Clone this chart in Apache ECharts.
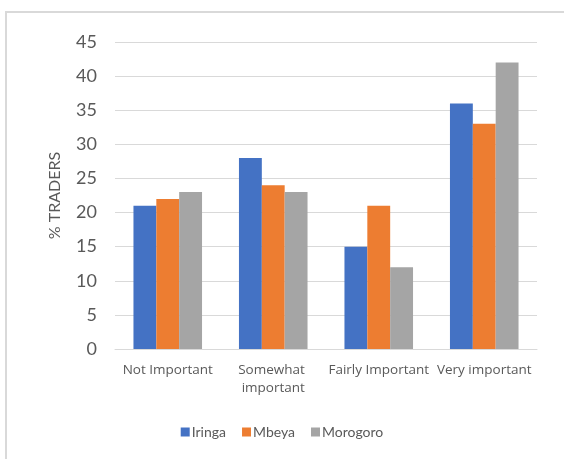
<!DOCTYPE html>
<html>
<head>
<meta charset="utf-8">
<script src="https://cdn.jsdelivr.net/npm/echarts@6/dist/echarts.min.js"></script>
<style>
  html, body { margin: 0; padding: 0; background: #fff; }
  #chart { width: 564px; height: 459px; }
</style>
</head>
<body>
<div id="chart"></div>
<script>
  // categories and values
  const categories = ['Not Important', 'Somewhat important', 'Fairly Important', 'Very important']
  const iringa = [21, 28, 15, 36]
  const mbeya = [22, 24, 21, 33]
  const morogoro = [23, 23, 12, 42]
  const seriesNames = ['Iringa', 'Mbeya', 'Morogoro']
  const colors = ['#4472c4', '#ed7d31', '#a5a5a5']

  const font = 'Lato, "Open Sans", sans-serif'
  const labelFont = '"Open Sans", Lato, sans-serif'
  const chart = echarts.init(document.getElementById('chart'))

  const bar = (name, data, color) => ({
    name,
    type: 'bar',
    data,
    barGap: '0%',
    barCategoryGap: '35%',
    itemStyle: { color },
    animation: false
  })

  chart.setOption({
    textStyle: { fontFamily: font },
    graphic: [
      // light frame round the chart area (top and left edge visible)
      { type: 'line', shape: { x1: 5, y1: 12, x2: 564, y2: 12 }, style: { stroke: '#d9d9d9', lineWidth: 2 } },
      { type: 'line', shape: { x1: 6, y1: 12, x2: 6, y2: 459 }, style: { stroke: '#d9d9d9', lineWidth: 2 } }
    ],
    grid: { left: 115, right: 27, top: 42, bottom: 110 },
    legend: {
      data: seriesNames,
      bottom: 15,
      left: 'center',
      itemWidth: 9,
      itemHeight: 9,
      itemGap: 16,
      icon: 'rect',
      textStyle: { color: '#595959', fontSize: 14, fontFamily: font, padding: [0, 0, 0, -3] }
    },
    xAxis: {
      type: 'category',
      data: categories,
      axisLine: { lineStyle: { color: '#d9d9d9', width: 1 } },
      axisTick: { show: false },
      axisLabel: {
        interval: 0,
        color: '#595959',
        fontSize: 13.5,
        fontFamily: labelFont,
        margin: 12,
        width: 108,
        overflow: 'break',
        lineHeight: 18
      }
    },
    yAxis: {
      type: 'value',
      min: 0,
      max: 45,
      interval: 5,
      name: '% TRADERS',
      nameLocation: 'middle',
      nameGap: 52,
      nameTextStyle: { color: '#595959', fontSize: 16, fontFamily: font },
      axisLine: { show: false },
      axisTick: { show: false },
      axisLabel: { color: '#595959', fontSize: 18, fontFamily: font, margin: 18 },
      splitLine: { lineStyle: { color: '#d9d9d9', width: 1 } }
    },
    series: [
      bar(seriesNames[0], iringa, colors[0]),
      bar(seriesNames[1], mbeya, colors[1]),
      bar(seriesNames[2], morogoro, colors[2])
    ]
  })
</script>
</body>
</html>
